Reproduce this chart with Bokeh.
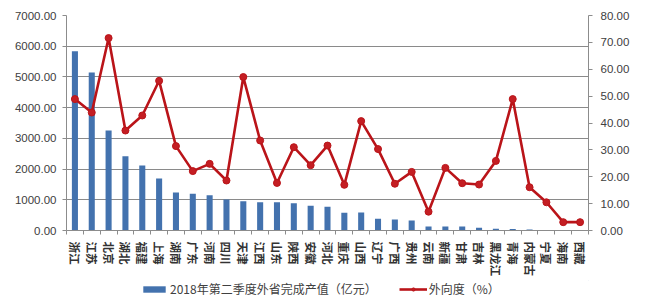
import math
from bokeh.plotting import figure
from bokeh.layouts import column
from bokeh.models import (Range1d, LinearAxis, FixedTicker,
                          NumeralTickFormatter, Legend, LegendItem)
from bokeh.embed import file_html
from bokeh.resources import INLINE

provinces = ["浙江", "江苏", "北京", "湖北", "福建", "上海", "湖南", "广东", "河南", "四川",
             "天津", "江西", "山东", "陕西", "安徽", "河北", "重庆", "山西", "辽宁", "广西",
             "贵州", "云南", "新疆", "甘肃", "吉林", "黑龙江", "青海", "内蒙古", "宁夏", "海南", "西藏"]
output_value = [5840, 5145, 3255, 2420, 2115, 1690, 1235, 1200, 1150, 1010,
                955, 920, 920, 890, 805, 770, 580, 590, 380, 360,
                325, 130, 130, 130, 90, 60, 50, 30, 20, 15, 10]
openness = [48.9, 43.9, 71.6, 37.2, 42.8, 55.7, 31.4, 22.1, 24.8, 18.6,
            57.1, 33.5, 17.7, 31.0, 24.3, 31.6, 17.0, 40.7, 30.3, 17.4,
            21.8, 7.0, 23.3, 17.6, 17.1, 25.9, 48.9, 16.1, 10.5, 3.1, 3.1]
bar_label = "2018年第二季度外省完成产值（亿元）"
line_label = "外向度（%）"
left_ticks = [0, 1000, 2000, 3000, 4000, 5000, 6000, 7000]
right_ticks = [0, 10, 20, 30, 40, 50, 60, 70, 80]

BAR_COLOR = "#4372AE"
LINE_COLOR = "#BA1419"
DOT_COLOR = "#C41E23"

n = len(provinces)
xs = [i + 0.5 for i in range(n)]

p = figure(width=652, height=280, output_backend="svg", toolbar_location=None,
           x_range=Range1d(0, n), y_range=Range1d(left_ticks[0], left_ticks[-1]),
           min_border_left=66, min_border_right=64, min_border_top=15, min_border_bottom=50)
p.extra_y_ranges = {"r": Range1d(right_ticks[0], right_ticks[-1])}
p.outline_line_color = None
p.background_fill_color = "white"
p.border_fill_color = "white"

p.vbar(x=xs, top=output_value, width=0.36, fill_color=BAR_COLOR, line_color=None)
p.line(xs, openness, y_range_name="r", line_color=LINE_COLOR, line_width=2.6)
p.scatter(xs, openness, y_range_name="r", size=7, fill_color=DOT_COLOR, line_color=LINE_COLOR)

# x axis
xa = p.xaxis[0]
xa.ticker = FixedTicker(ticks=xs, minor_ticks=list(range(n + 1)))
xa.major_label_overrides = {x: name for x, name in zip(xs, provinces)}
xa.major_label_orientation = -math.pi / 2
xa.major_tick_line_color = None
xa.minor_tick_line_color = "#8C8C8C"
xa.minor_tick_out = 4
xa.minor_tick_in = 0
xa.axis_line_color = "#8C8C8C"
xa.major_label_text_font = "Noto Sans CJK SC"
xa.major_label_text_font_size = "11.5px"
xa.major_label_text_font_style = "bold"
xa.major_label_text_color = "#333333"
xa.major_label_standoff = 5

# left axis
ya = p.yaxis[0]
ya.ticker = FixedTicker(ticks=left_ticks)
ya.formatter = NumeralTickFormatter(format="0.00")
ya.axis_line_color = "#8C8C8C"
ya.major_tick_line_color = "#8C8C8C"
ya.major_tick_out = 4
ya.major_tick_in = 0
ya.minor_tick_line_color = None
ya.major_label_text_font = "Liberation Sans"
ya.major_label_text_font_size = "11.5px"
ya.major_label_text_color = "#404040"
ya.major_label_standoff = 6

# right axis
ra = LinearAxis(y_range_name="r", ticker=FixedTicker(ticks=right_ticks),
                formatter=NumeralTickFormatter(format="0.00"))
ra.axis_line_color = "#8C8C8C"
ra.major_tick_line_color = "#8C8C8C"
ra.major_tick_out = 4
ra.major_tick_in = 0
ra.minor_tick_line_color = None
ra.major_label_text_font = "Liberation Sans"
ra.major_label_text_font_size = "11.5px"
ra.major_label_text_color = "#404040"
ra.major_label_standoff = 8
p.add_layout(ra, "right")

p.xgrid.grid_line_color = None
p.ygrid.ticker = FixedTicker(ticks=left_ticks)
p.ygrid.grid_line_color = "#8A8A8A"
p.ygrid.grid_line_width = 1

# legend strip below the chart (swatch renderers sit outside the visible range)
lg = figure(width=652, height=28, output_backend="svg", toolbar_location=None,
            x_range=Range1d(0, 1), y_range=Range1d(0, 1),
            min_border=0, outline_line_color=None)
lg.axis.visible = False
lg.grid.visible = False
lb = lg.vbar(x=[5], top=[5], bottom=[4], width=0.1, fill_color=BAR_COLOR, line_color=None)
ll = lg.line(x=[5, 6], y=[5, 5], line_color=LINE_COLOR, line_width=2.6)
ls = lg.scatter(x=[5.5], y=[5], size=6, fill_color=DOT_COLOR, line_color=LINE_COLOR)
legend = Legend(items=[LegendItem(label=bar_label, renderers=[lb]),
                       LegendItem(label=line_label, renderers=[ll, ls])],
                location=(74, 11), orientation="horizontal",
                glyph_width=28, glyph_height=8, label_height=8,
                label_standoff=2, spacing=22, padding=0, margin=0,
                border_line_color=None, background_fill_alpha=0,
                label_text_font="Noto Sans CJK SC", label_text_font_size="12px",
                label_text_color="#404040")
lg.add_layout(legend, "center")

layout = column(p, lg, spacing=0)
open("out.html", "w").write(file_html(layout, INLINE))
